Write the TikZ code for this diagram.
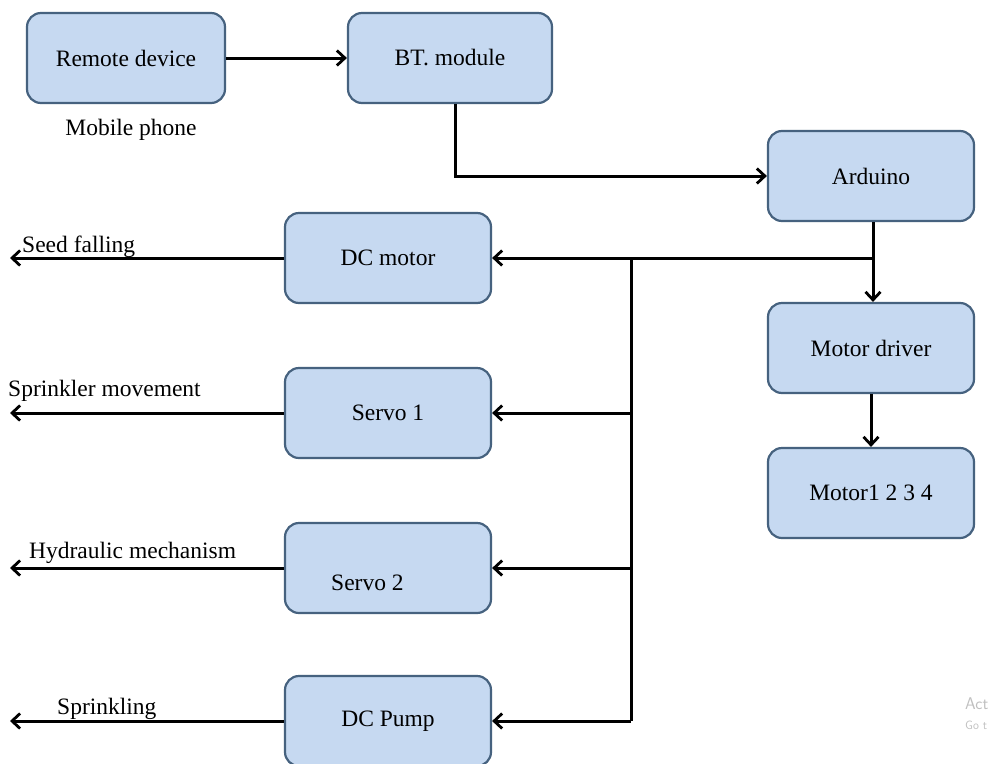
\documentclass[tikz,border=0pt]{standalone}
\usepackage{fontspec}
\setmainfont{Liberation Serif}
\usetikzlibrary{arrows.meta}
\definecolor{boxfill}{HTML}{C6D9F1}
\definecolor{boxline}{HTML}{46627F}
\begin{document}
\begin{tikzpicture}[x=1pt,y=-1pt,
  blk/.style={draw=boxline,line width=2.2pt,fill=boxfill,rounded corners=14pt,
    minimum width=206pt,minimum height=90pt,inner sep=0pt,font=\fontsize{23.5}{26}\selectfont},
  lbl/.style={font=\fontsize{23.5}{26}\selectfont,inner sep=0pt,anchor=base west},
  con/.style={line width=3pt,black},
  arr/.style={con,-{Straight Barb[length=8pt,width=15pt,line width=2.8pt]}},
  wm/.style={font=\sffamily\fontsize{17}{20}\selectfont,text=black!25,inner sep=0pt,anchor=base west}]
\clip (0,0) rectangle (995,763);
\fill[white] (0,0) rectangle (995,763);
% boxes
\node[blk,minimum width=198pt] (remote) at (126,58) {Remote device};
\node[blk,minimum width=204pt] (bt) at (450,58) {BT. module};
\node[blk] (arduino) at (871,176) {Arduino};
\node[blk] (dcmotor) at (388,258) {DC motor};
\node[blk] (mdriver) at (871,348) {Motor driver};
\node[blk] (servoa) at (388,413) {Servo 1};
\node[blk] (motors) at (871,493) {Motor1 2 3 4};
\node[blk] (servob) at (388,568) {};
\node[lbl] (servobt) at (331,590) {Servo 2};
\node[blk] (pump) at (388,721) {DC Pump};
\node[font=\fontsize{23.5}{26}\selectfont] (mobile) at (131,130) {Mobile phone};
% labels
\node[lbl] (l1) at (22,252) {Seed falling};
\node[lbl] (l2) at (8,396) {Sprinkler movement};
\node[lbl] (l3) at (29,558) {Hydraulic mechanism};
\node[lbl] (l4) at (57,714) {Sprinkling};
% watermark
\node[wm] (wa) at (965,709) {Act};
\node[wm] (wb) at (965,729) {\fontsize{12}{14}\selectfont Go t};
% coordinates
\coordinate (btdown) at (455,104);
\coordinate (jr) at (873,258);
\coordinate (jt) at (631,258);
\coordinate (jb) at (631,721);
\coordinate (o1) at (10,258);
\coordinate (o2) at (10,413);
\coordinate (o3) at (10,568);
\coordinate (o4) at (10,721);
% connectors
\draw[arr] (remote) -- (bt);
\draw[arr] (btdown) |- (arduino.west);
\draw[arr] (arduino.south -| jr) -- (mdriver.north -| jr);
\draw[arr] (jr) -- (dcmotor.east);
\draw[con] (jt) -- (jb);
\draw[arr] (jt |- servoa.east) -- (servoa.east);
\draw[arr] (jt |- servob.east) -- (servob.east);
\draw[arr] (jb) -- (pump.east);
\draw[arr] (mdriver) -- (motors);
\draw[arr] (dcmotor.west) -- (o1);
\draw[arr] (servoa.west) -- (o2);
\draw[arr] (servob.west) -- (o3);
\draw[arr] (pump.west) -- (o4);
\end{tikzpicture}
\end{document}
